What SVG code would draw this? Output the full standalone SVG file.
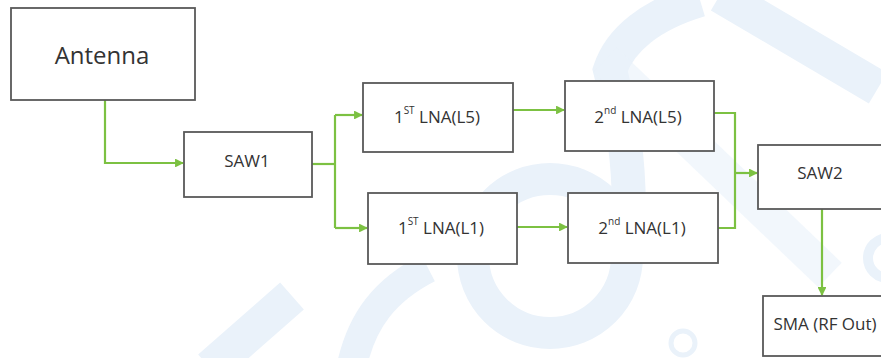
<svg xmlns="http://www.w3.org/2000/svg" width="881" height="358" viewBox="0 0 881 358">
  <defs>
    <style>
      .box { fill: #ffffff; stroke: #595959; stroke-width: 1.8; }
      .lbl { font-family: "Open Sans", "Liberation Sans", sans-serif; fill: #333333; text-anchor: middle; }
      .conn { fill: none; stroke: #7cc142; stroke-width: 2.2; }
      .wm { fill: none; stroke: #eaf2fa; }
    </style>
    <marker id="arr" viewBox="0 0 10 10" refX="9" refY="5" markerWidth="4" markerHeight="4" orient="auto" markerUnits="strokeWidth">
      <path d="M0,0 L10,5 L0,10 z" fill="#7cc142"/>
    </marker>
  </defs>
  <rect width="881" height="358" fill="#ffffff"/>

  <g id="watermark">
    <circle class="wm" cx="550" cy="256" r="77" stroke-width="32"/>
    <path class="wm" d="M628,235 C632,160 620,110 610,70 C620,40 650,15 700,0" stroke-width="34"/>
    <path class="wm" d="M720,-5 L878,88" stroke-width="36"/>
    <path class="wm" d="M605,60 L830,275" stroke-width="34" stroke-opacity="0.6"/>
    <path class="wm" d="M210,368 L292,296" stroke-width="36"/>
    <path class="wm" d="M352,365 C362,320 385,290 428,268" stroke-width="30"/>
    <circle class="wm" cx="683" cy="343" r="12" stroke-width="5"/>
    <circle class="wm" cx="888" cy="258" r="20" stroke-width="10"/>
  </g>

  <g id="connectors">
    <path class="conn" d="M105,100 V163 H183" marker-end="url(#arr)"/>
    <path class="conn" d="M312,164 H335"/>
    <path class="conn" d="M335,115 V228"/>
    <path class="conn" d="M335,115 H362" marker-end="url(#arr)"/>
    <path class="conn" d="M335,228 H367" marker-end="url(#arr)"/>
    <path class="conn" d="M513,110 H564" marker-end="url(#arr)"/>
    <path class="conn" d="M517,227 H567" marker-end="url(#arr)"/>
    <path class="conn" d="M714,113 H735 V228 H718"/>
    <path class="conn" d="M735,173 H757" marker-end="url(#arr)"/>
    <path class="conn" d="M822,209 V295" marker-end="url(#arr)"/>
  </g>

  <g id="antenna">
    <rect class="box" x="11" y="8" width="184" height="92"/>
    <text class="lbl" x="102" y="64" font-size="24">Antenna</text>
  </g>
  <g id="saw1">
    <rect class="box" x="184" y="132" width="128" height="65"/>
    <text class="lbl" x="247" y="167" font-size="17">SAW1</text>
  </g>
  <g id="lna1-l5">
    <rect class="box" x="363" y="83" width="150" height="69"/>
    <text class="lbl" x="437" y="123" font-size="17">1<tspan font-size="10" dy="-9">ST</tspan><tspan dy="9"> LNA(L5)</tspan></text>
  </g>
  <g id="lna1-l1">
    <rect class="box" x="368" y="193" width="149" height="71"/>
    <text class="lbl" x="441" y="234" font-size="17">1<tspan font-size="10" dy="-9">ST</tspan><tspan dy="9"> LNA(L1)</tspan></text>
  </g>
  <g id="lna2-l5">
    <rect class="box" x="565" y="81" width="149" height="70"/>
    <text class="lbl" x="638" y="123" font-size="17">2<tspan font-size="10" dy="-9">nd</tspan><tspan dy="9"> LNA(L5)</tspan></text>
  </g>
  <g id="lna2-l1">
    <rect class="box" x="568" y="193" width="150" height="70"/>
    <text class="lbl" x="642" y="234" font-size="17">2<tspan font-size="10" dy="-9">nd</tspan><tspan dy="9"> LNA(L1)</tspan></text>
  </g>
  <g id="saw2">
    <rect class="box" x="758" y="145" width="140" height="64"/>
    <text class="lbl" x="820" y="179" font-size="17">SAW2</text>
  </g>
  <g id="sma">
    <rect class="box" x="763" y="296" width="140" height="60"/>
    <text class="lbl" x="825" y="330" font-size="17">SMA (RF Out)</text>
  </g>
</svg>
